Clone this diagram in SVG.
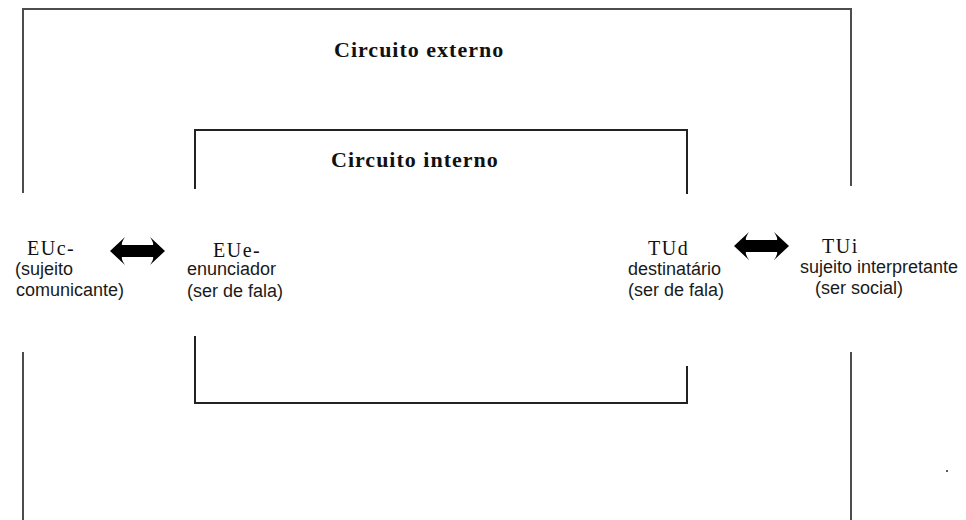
<svg xmlns="http://www.w3.org/2000/svg" width="966" height="520" viewBox="0 0 966 520">
  <defs>
    <style>
      .outer { fill: none; stroke: #4d4d4d; stroke-width: 2; }
      .inner { fill: none; stroke: #222; stroke-width: 2; }
      .title { font-family: "Liberation Serif", "DejaVu Serif", serif; font-size: 22px; font-weight: bold; letter-spacing: 1px; fill: #111; }
      .code { font-family: "Liberation Serif", "DejaVu Serif", serif; font-size: 20px; letter-spacing: 1.5px; fill: #111; }
      .desc { font-family: "Liberation Sans", Arial, sans-serif; font-size: 18px; fill: #1a1a1a; }
      .arrow { fill: #000; }
    </style>
    <path id="dbl" d="M0,14 L15,0 Q11,6 12,8 L43,8 Q44,6 40,0 L55,14 L40,28 Q44,22 43,20 L12,20 Q11,22 15,28 Z"/>
  </defs>
  <rect width="966" height="520" fill="#fff"/>

  <g id="circuito-externo">
    <path class="outer" d="M23,193 V9 H851 V186"/>
    <path class="outer" d="M23,352 V520"/>
    <path class="outer" d="M851,352 V520"/>
    <text class="title" x="334" y="57">Circuito externo</text>
  </g>

  <g id="circuito-interno">
    <path class="inner" d="M195,189 V130 H687 V194"/>
    <path class="inner" d="M195,336 V403 H687 V366"/>
    <text class="title" x="331" y="167">Circuito interno</text>
  </g>

  <g id="euc">
    <text class="code" x="27" y="255">EUc-</text>
    <text class="desc" x="15" y="275">(sujeito</text>
    <text class="desc" x="16" y="296">comunicante)</text>
  </g>

  <g id="eue">
    <text class="code" x="213" y="257">EUe-</text>
    <text class="desc" x="187" y="275">enunciador</text>
    <text class="desc" x="187" y="297">(ser de fala)</text>
  </g>

  <g id="tud">
    <text class="code" x="648" y="255">TUd</text>
    <text class="desc" x="628" y="275">destinatário</text>
    <text class="desc" x="628" y="296">(ser de fala)</text>
  </g>

  <g id="tui">
    <text class="code" x="822" y="253">TUi</text>
    <text class="desc" x="800" y="273">sujeito interpretante</text>
    <text class="desc" x="815" y="294">(ser social)</text>
  </g>

  <g id="connectors">
    <use href="#dbl" class="arrow" x="110" y="237"/>
    <use href="#dbl" class="arrow" x="734" y="232"/>
  </g>

  <circle cx="947" cy="471" r="1" fill="#222"/>
</svg>
